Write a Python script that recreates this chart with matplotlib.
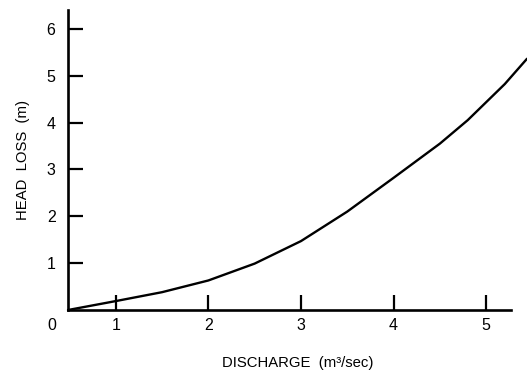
import matplotlib
matplotlib.use("Agg")
import matplotlib.pyplot as plt

# Data (discharge m3/sec, head loss m)
discharge = [0.485, 1.0, 1.5, 2.0, 2.5, 3.0, 3.5, 4.0, 4.5, 4.8, 5.2, 5.44]
head_loss = [0.0, 0.19, 0.38, 0.63, 0.99, 1.47, 2.10, 2.82, 3.55, 4.05, 4.82, 5.36]
x_ticks = [1, 2, 3, 4, 5]
x_tick_labels = ["1", "2", "3", "4", "5"]
y_ticks = [1, 2, 3, 4, 5, 6]
y_tick_labels = ["1", "2", "3", "4", "5", "6"]

plt.rcParams['font.family'] = ['Liberation Sans', 'DejaVu Sans']

fig = plt.figure(figsize=(5.27, 3.72), dpi=100)
ax = fig.add_axes([68/527, 62/372, 1 - 68/527, 300/372])
ax.plot(discharge, head_loss, color='black', lw=1.7, clip_on=False,
        solid_joinstyle='round', solid_capstyle='round')

ax.set_xlim(0.485, 5.44)
ax.set_ylim(0, 6.4)
for s in ['top', 'right']:
    ax.spines[s].set_visible(False)
for s in ['left', 'bottom']:
    ax.spines[s].set_linewidth(1.9)
ax.spines['bottom'].set_bounds(0.485, 5.27)
ax.spines['left'].set_bounds(0, 6.4)

ax.set_xticks(x_ticks)
ax.set_xticklabels(x_tick_labels)
ax.set_yticks(y_ticks)
ax.set_yticklabels(y_tick_labels)
ax.tick_params(axis='both', direction='in', length=10.5, width=1.6, labelsize=11.5)
ax.tick_params(axis='x', pad=6)
ax.tick_params(axis='y', pad=9)

ax.annotate("0", xy=(0.31, 0), xycoords=('data', 'axes fraction'),
            xytext=(0, -6), textcoords='offset points', ha='center', va='top', fontsize=11.5)

ax.set_xlabel("DISCHARGE  (m³/sec)", fontsize=10.7, labelpad=16)
ax.set_ylabel("HEAD  LOSS  (m)", fontsize=10.7, labelpad=12)

fig.savefig("out.png", dpi=100)
